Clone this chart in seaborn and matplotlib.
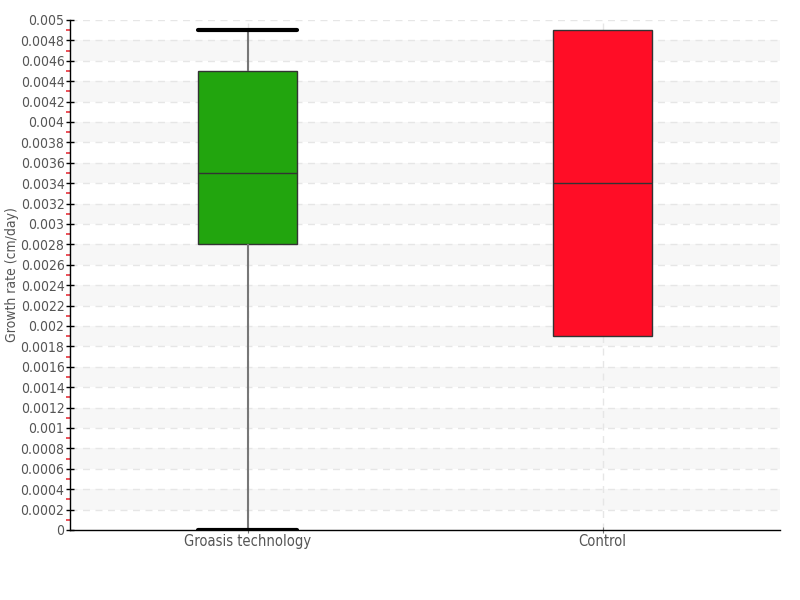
import numpy as np
import pandas as pd
import matplotlib
matplotlib.use("Agg")
import matplotlib.pyplot as plt
import seaborn as sns
from matplotlib.ticker import MultipleLocator

groups = ["Groasis technology", "Control"]
groasis_values = [0.0, 0.0028, 0.0035, 0.0045, 0.0049]
control_values = [0.0019, 0.0019, 0.0034, 0.0049, 0.0049]
colors = ["#22A50E", "#FF0D26"]

df = pd.DataFrame({
    "group": [groups[0]] * len(groasis_values) + [groups[1]] * len(control_values),
    "rate": groasis_values + control_values,
})

sns.set_style("white")
plt.rcParams["font.family"] = ["DejaVu Sans"]
plt.rcParams["font.stretch"] = "condensed"

fig = plt.figure(figsize=(8, 6), dpi=100)
ax = fig.add_axes([0.0875, 0.1167, 0.8875, 0.85])

# alternating bands
for lo in np.arange(0.0002, 0.005, 0.0004):
    ax.axhspan(lo, lo + 0.0002, color="#f7f7f7", zorder=0, lw=0)
for y in np.arange(0.0002, 0.00501, 0.0002):
    ax.axhline(y, color="#e6e6e6", ls=(0, (5, 4)), lw=1, zorder=0.5)
for x in range(len(groups)):
    ax.axvline(x, color="#e6e6e6", ls=(0, (5, 4)), lw=1, zorder=0.5)

sns.boxplot(data=df, x="group", y="rate", hue="group", palette=colors, width=0.28,
            saturation=1, whis=(0, 100), linewidth=1, linecolor="#333333",
            legend=False, ax=ax,
            whiskerprops=dict(color="#777777", lw=1.5),
            capprops=dict(color="black", lw=3),
            medianprops=dict(color="#333333", lw=1),
            boxprops=dict(edgecolor="#333333", lw=1))

# caps: match box width, hide where the whisker has zero length
for line in ax.lines:
    xd = np.asarray(line.get_xdata(), dtype=float)
    yd = np.asarray(line.get_ydata(), dtype=float)
    if line.get_linewidth() >= 2.5 and len(xd) == 2 and yd[0] == yd[1]:
        c = xd.mean()
        line.set_xdata([c - 0.14, c + 0.14])
        if round(c) == 1:
            line.set_visible(False)

ax.set_xlim(-0.5, 1.5)
ax.set_ylim(0, 0.005)
ax.yaxis.set_major_locator(MultipleLocator(0.0002))
ax.yaxis.set_minor_locator(MultipleLocator(0.0001))
ax.set_yticklabels([("%.4f" % v).rstrip("0").rstrip(".") for v in ax.get_yticks()])
ax.tick_params(axis="y", which="major", direction="inout", length=6, width=1,
               color="black", labelsize=10, labelcolor="#555555", pad=1, left=True)
ax.tick_params(axis="y", which="minor", direction="out", length=3, width=1.2,
               color="#e8323c", left=True)
ax.tick_params(axis="x", direction="inout", length=4, color="#777777",
               labelsize=10.5, labelcolor="#555555", pad=1, bottom=True)

ax.set_xlabel("")
ax.set_ylabel("Growth rate (cm/day)", fontsize=10, color="#555555")
ax.yaxis.set_label_coords(-0.072, 0.5)

for side in ["top", "right"]:
    ax.spines[side].set_visible(False)
for side in ["left", "bottom"]:
    ax.spines[side].set_color("black")
    ax.spines[side].set_linewidth(1)

fig.savefig("out.png", dpi=100)
